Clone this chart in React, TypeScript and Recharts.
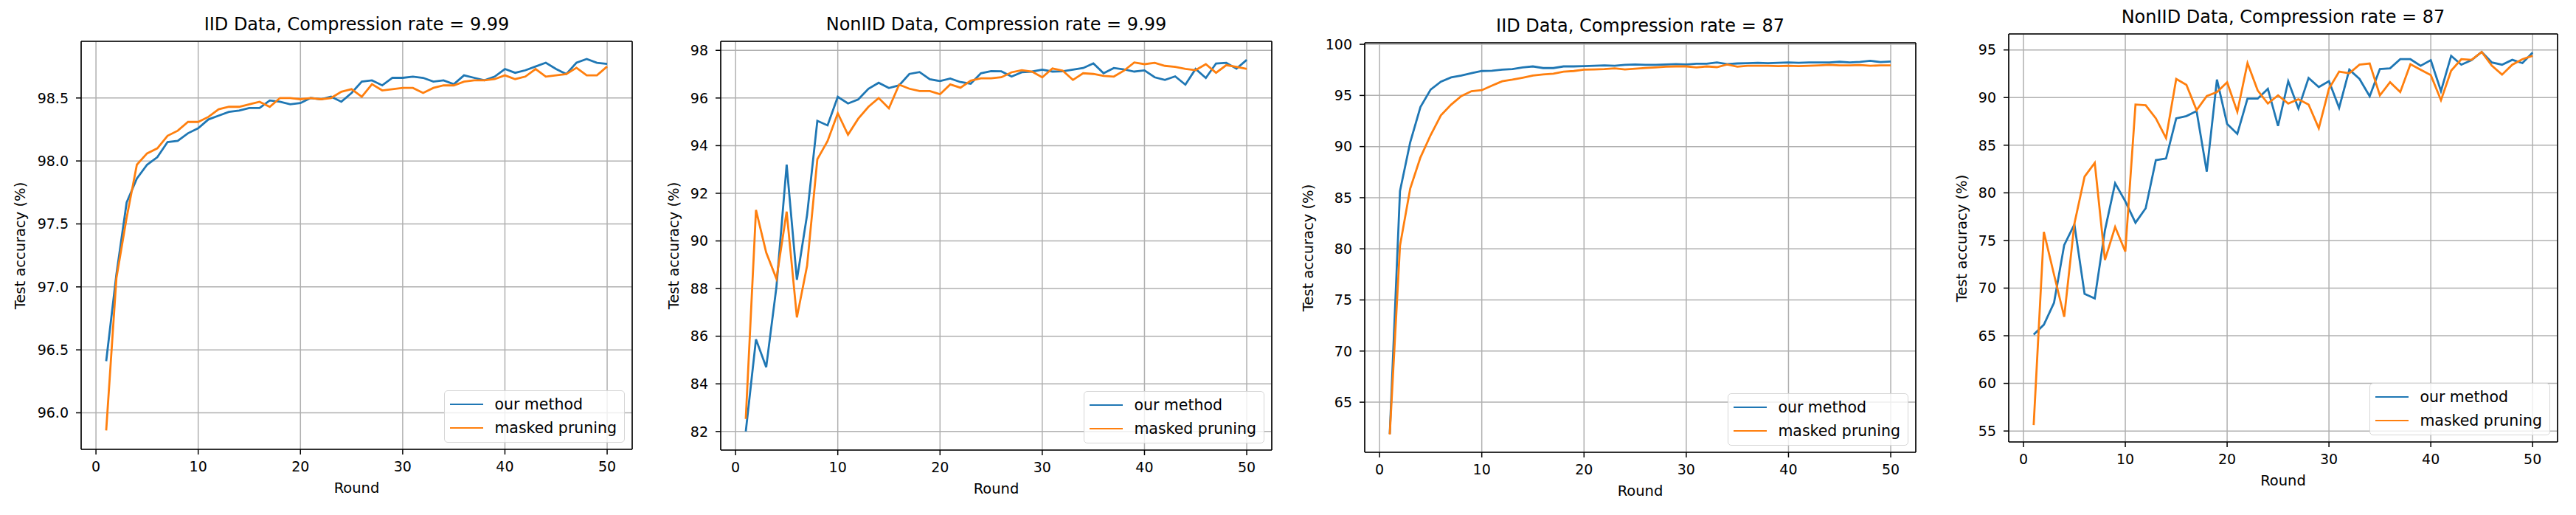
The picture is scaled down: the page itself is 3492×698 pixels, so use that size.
import React from "react";
import {
  LineChart,
  Line,
  XAxis,
  YAxis,
  CartesianGrid,
  Legend,
} from "recharts";

const FONT = "'DejaVu Sans', sans-serif";
const BLUE = "#1f77b4";
const ORANGE = "#ff7f0e";

const rounds = Array.from({ length: 50 }, (_, i) => i + 1);
const xTicks = [0, 10, 20, 30, 40, 50];
const seriesNames = ["our method", "masked pruning"];

// IID, compression 9.99
const iid999Ours = [
  96.41, 97.1, 97.67, 97.86, 97.97, 98.03, 98.15, 98.16, 98.22, 98.26,
  98.33, 98.36, 98.39, 98.4, 98.42, 98.42, 98.48, 98.47, 98.45, 98.46,
  98.5, 98.49, 98.51, 98.47, 98.54, 98.63, 98.64, 98.6, 98.66, 98.66,
  98.67, 98.66, 98.63, 98.64, 98.61, 98.68, 98.66, 98.64, 98.67, 98.73,
  98.7, 98.72, 98.75, 98.78, 98.73, 98.69, 98.78, 98.81, 98.78, 98.77,
];
const iid999Masked = [
  95.86, 97.07, 97.55, 97.97, 98.06, 98.1, 98.2, 98.24, 98.31, 98.31,
  98.35, 98.41, 98.43, 98.43, 98.45, 98.47, 98.43, 98.5, 98.5, 98.49,
  98.5, 98.49, 98.5, 98.55, 98.57, 98.51, 98.61, 98.56, 98.57, 98.58,
  98.58, 98.54, 98.58, 98.6, 98.6, 98.63, 98.64, 98.64, 98.65, 98.68,
  98.65, 98.67, 98.73, 98.67, 98.68, 98.69, 98.74, 98.68, 98.68, 98.75,
];

// NonIID, compression 9.99
const non999Ours = [
  82.0, 85.87, 84.7, 88.07, 93.2, 88.37, 91.1, 95.04, 94.85, 96.05,
  95.77, 95.94, 96.39, 96.64, 96.42, 96.53, 97.01, 97.09, 96.79, 96.71,
  96.82, 96.67, 96.6, 97.04, 97.13, 97.12, 96.9, 97.08, 97.11, 97.19,
  97.11, 97.12, 97.19, 97.26, 97.45, 97.04, 97.26, 97.2, 97.11, 97.16,
  96.87, 96.76, 96.91, 96.56, 97.22, 96.84, 97.45, 97.48, 97.23, 97.6,
];
const non999Masked = [
  82.53, 91.3, 89.51, 88.41, 91.23, 86.79, 88.96, 93.43, 94.19, 95.36,
  94.46, 95.13, 95.63, 96.0, 95.57, 96.56, 96.39, 96.29, 96.29, 96.16,
  96.57, 96.43, 96.73, 96.83, 96.83, 96.87, 97.08, 97.17, 97.11, 96.87,
  97.24, 97.15, 96.76, 97.04, 97.01, 96.93, 96.9, 97.15, 97.49, 97.42,
  97.48, 97.35, 97.31, 97.22, 97.17, 97.42, 97.06, 97.38, 97.31, 97.22,
];

// IID, compression 87
const iid87Ours = [
  61.9, 85.65, 90.42, 93.87, 95.58, 96.35, 96.77, 96.94, 97.19, 97.39,
  97.42, 97.52, 97.58, 97.74, 97.84, 97.68, 97.68, 97.84, 97.84, 97.87,
  97.9, 97.94, 97.9, 98.0, 98.03, 98.0, 98.0, 98.03, 98.06, 98.03,
  98.1, 98.1, 98.23, 98.06, 98.13, 98.16, 98.19, 98.16, 98.19, 98.23,
  98.19, 98.23, 98.23, 98.23, 98.29, 98.23, 98.29, 98.39, 98.26, 98.32,
];
const iid87Masked = [
  61.84, 80.3, 85.9, 88.94, 91.13, 93.06, 94.1, 94.94, 95.42, 95.52,
  95.97, 96.39, 96.55, 96.74, 96.94, 97.06, 97.13, 97.32, 97.39, 97.52,
  97.55, 97.58, 97.65, 97.55, 97.61, 97.68, 97.74, 97.81, 97.84, 97.84,
  97.74, 97.84, 97.77, 98.03, 97.81, 97.9, 97.9, 97.9, 97.87, 97.9,
  97.87, 97.9, 97.94, 98.0, 97.94, 97.94, 97.97, 97.9, 97.94, 97.94,
];

// NonIID, compression 87
const non87Ours = [
  65.12, 66.16, 68.47, 74.52, 76.69, 69.4, 68.92, 76.07, 81.01, 79.11,
  76.86, 78.38, 83.43, 83.6, 87.82, 88.06, 88.58, 82.22, 91.89, 87.23,
  86.19, 89.89, 89.89, 90.92, 87.02, 91.72, 88.85, 92.06, 91.1, 91.72,
  88.92, 92.93, 91.96, 90.13, 93.0, 93.07, 94.03, 94.03, 93.34, 93.93,
  90.68, 94.38, 93.45, 93.93, 94.79, 93.69, 93.45, 93.96, 93.62, 94.72,
];
const non87Masked = [
  55.62, 75.9, 71.41, 66.99, 76.76, 81.7, 83.15, 72.96, 76.42, 73.83,
  89.27, 89.2, 87.82, 85.74, 91.96, 91.34, 88.68, 90.16, 90.58, 91.61,
  88.51, 93.62, 90.75, 89.37, 90.23, 89.37, 89.82, 89.27, 86.78, 90.92,
  92.72, 92.55, 93.45, 93.58, 90.23, 91.61, 90.58, 93.51, 92.93, 92.37,
  89.72, 92.82, 94.03, 93.96, 94.79, 93.34, 92.41, 93.45, 94.03, 94.38,
];

const ticks999Iid = [96.0, 96.5, 97.0, 97.5, 98.0, 98.5];
const ticks999Non = [82, 84, 86, 88, 90, 92, 94, 96, 98];
const ticks87Iid = [65, 70, 75, 80, 85, 90, 95, 100];
const ticks87Non = [55, 60, 65, 70, 75, 80, 85, 90, 95];

type Box = { top: number; right: number; bottom: number; left: number };
type Panel = {
  title: string;
  ours: number[];
  masked: number[];
  yTicks: number[];
  yDomain: [number, number];
  decimals: number;
  left: number;
  plot: Box; // distance of the plot frame from the panel edges
  yLabelGap: number;
};

const PANEL_W = 873;
const H = 698;
const AX = 1; // thickness reserved for each axis

const panels: Panel[] = [
  {
    title: "IID Data, Compression rate = 9.99",
    ours: iid999Ours,
    masked: iid999Masked,
    yTicks: ticks999Iid,
    yDomain: [95.71, 98.95],
    decimals: 1,
    left: 0,
    plot: { top: 56, right: 16, bottom: 89, left: 110 },
    yLabelGap: 82,
  },
  {
    title: "NonIID Data, Compression rate = 9.99",
    ours: non999Ours,
    masked: non999Masked,
    yTicks: ticks999Non,
    yDomain: [81.22, 98.38],
    decimals: 0,
    left: 873,
    plot: { top: 56, right: 22, bottom: 88, left: 104 },
    yLabelGap: 63,
  },
  {
    title: "IID Data, Compression rate = 87",
    ours: iid87Ours,
    masked: iid87Masked,
    yTicks: ticks87Iid,
    yDomain: [60.1, 100.15],
    decimals: 0,
    left: 1746,
    plot: { top: 58, right: 22, bottom: 85, left: 104 },
    yLabelGap: 76,
  },
  {
    title: "NonIID Data, Compression rate = 87",
    ours: non87Ours,
    masked: non87Masked,
    yTicks: ticks87Non,
    yDomain: [53.85, 96.68],
    decimals: 0,
    left: 2619,
    plot: { top: 46, right: 25, bottom: 99, left: 104 },
    yLabelGap: 63,
  },
];

const LegendBox = (props: any) => {
  const items = [...(props.payload || [])].sort(
    (a: any, b: any) => seriesNames.indexOf(a.value) - seriesNames.indexOf(b.value)
  );
  return (
    <div
      style={{
        background: "rgba(255,255,255,0.8)",
        border: "1.5px solid #d6d6d6",
        borderRadius: 5,
        padding: "2px 10px 3px 7px",
        fontFamily: FONT,
        fontSize: 20.5,
        color: "#000",
        whiteSpace: "nowrap",
      }}
    >
      {items.map((e: any) => (
        <div
          key={e.value}
          style={{ display: "flex", alignItems: "center", height: 32 }}
        >
          <span
            style={{
              display: "inline-block",
              width: 45,
              borderTop: `2.8px solid ${e.color}`,
              marginRight: 15,
            }}
          />
          {e.value}
        </div>
      ))}
    </div>
  );
};

function PanelChart({ p }: { p: Panel }) {
  const data = rounds.map((r, i) => ({
    round: r,
    ours: p.ours[i],
    masked: p.masked[i],
  }));
  const b = p.plot;
  const margin = {
    top: b.top - AX,
    right: b.right - AX,
    bottom: b.bottom - AX,
    left: b.left - AX,
  };
  const plotW = PANEL_W - b.left - b.right;
  const plotH = H - b.top - b.bottom;
  const text = { fontFamily: FONT, fill: "#000", fontSize: 19 };
  const frame = { stroke: "#000", strokeWidth: 1.6 };
  return (
    <div style={{ position: "absolute", left: p.left, top: 0, width: PANEL_W, height: H }}>
      <LineChart width={PANEL_W} height={H} data={data} margin={margin}>
        <CartesianGrid stroke="#b0b0b0" strokeWidth={1.5} />
        <XAxis
          dataKey="round"
          type="number"
          domain={[-1.45, 52.45]}
          ticks={xTicks}
          interval={0}
          allowDataOverflow
          height={AX}
          tickSize={7}
          tickMargin={10}
          tick={text}
          tickLine={{ stroke: "#000", strokeWidth: 1.5 }}
          axisLine={frame}
        />
        <XAxis
          xAxisId="top"
          orientation="top"
          type="number"
          domain={[-1.45, 52.45]}
          height={AX}
          tick={false}
          tickLine={false}
          axisLine={frame}
        />
        <YAxis
          type="number"
          domain={p.yDomain}
          ticks={p.yTicks}
          interval={0}
          allowDataOverflow
          width={AX}
          tickSize={7}
          tickMargin={10}
          tickFormatter={(v: number) => v.toFixed(p.decimals)}
          tick={text}
          tickLine={{ stroke: "#000", strokeWidth: 1.5 }}
          axisLine={frame}
        />
        <YAxis
          yAxisId="right"
          orientation="right"
          type="number"
          domain={p.yDomain}
          width={AX}
          tick={false}
          tickLine={false}
          axisLine={frame}
        />
        <Line
          type="linear"
          dataKey="ours"
          name="our method"
          stroke={BLUE}
          strokeWidth={2.8}
          dot={false}
          isAnimationActive={false}
        />
        <Line
          type="linear"
          dataKey="masked"
          name="masked pruning"
          stroke={ORANGE}
          strokeWidth={2.8}
          dot={false}
          isAnimationActive={false}
        />
        <Legend
          layout="vertical"
          align="center"
          verticalAlign="middle"
          content={<LegendBox />}
          wrapperStyle={{ right: b.right + 10, bottom: b.bottom + 9, width: "auto" }}
        />
      </LineChart>
      <div
        style={{
          position: "absolute",
          left: b.left,
          width: plotW,
          top: b.top - 38,
          textAlign: "center",
          fontFamily: FONT,
          fontSize: 24,
          lineHeight: "30px",
        }}
      >
        {p.title}
      </div>
      <div
        style={{
          position: "absolute",
          left: b.left,
          width: plotW,
          top: b.top + plotH + 40,
          textAlign: "center",
          fontFamily: FONT,
          fontSize: 19.5,
          lineHeight: "26px",
        }}
      >
        Round
      </div>
      <div
        style={{
          position: "absolute",
          left: b.left - p.yLabelGap - 150,
          top: b.top + plotH / 2 - 13,
          width: 300,
          textAlign: "center",
          fontFamily: FONT,
          fontSize: 19.5,
          lineHeight: "26px",
          transform: "rotate(-90deg)",
        }}
      >
        Test accuracy (%)
      </div>
    </div>
  );
}

export default function App() {
  return (
    <div
      style={{
        position: "absolute",
        left: 0,
        top: 0,
        width: 3492,
        height: H,
        background: "#fff",
        overflow: "hidden",
      }}
    >
      {panels.map((p) => (
        <PanelChart key={p.title} p={p} />
      ))}
    </div>
  );
}
